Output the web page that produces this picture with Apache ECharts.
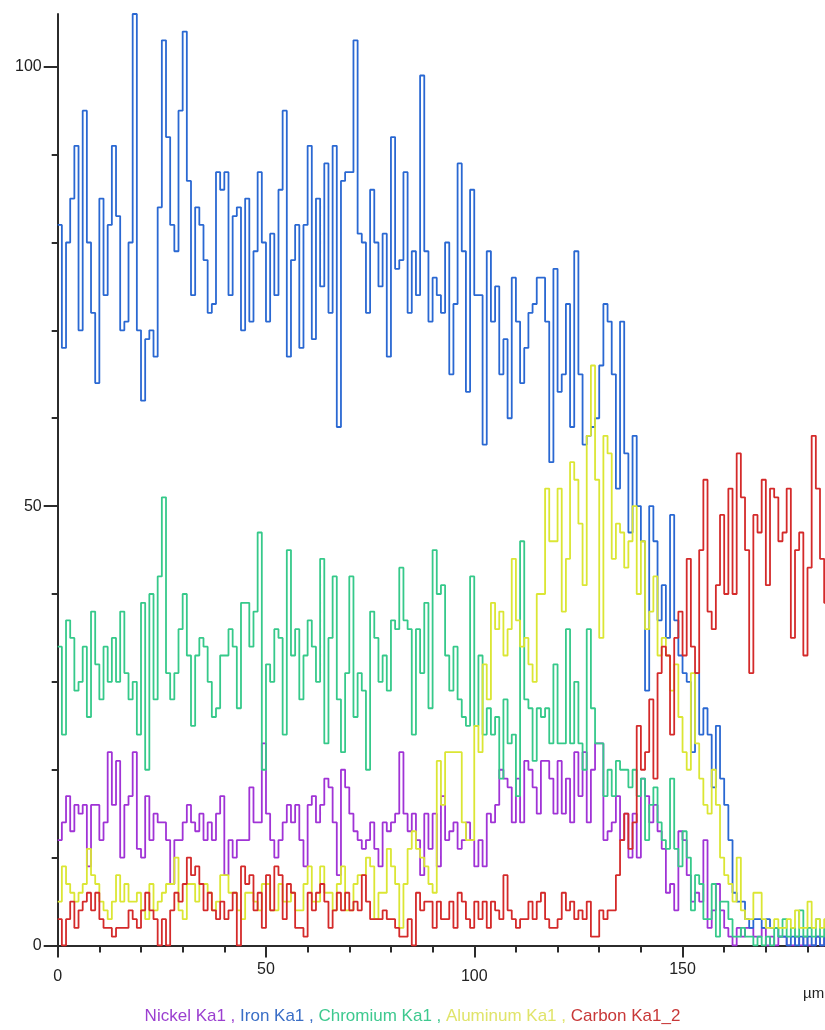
<!DOCTYPE html>
<html>
<head>
<meta charset="utf-8">
<script src="https://cdn.jsdelivr.net/npm/echarts@6/dist/echarts.min.js"></script>
<style>
  html, body { margin: 0; padding: 0; background: #ffffff; }
  #chart { width: 825px; height: 1030px; }
</style>
</head>
<body>
<div id="chart"></div>
<script>
// Line-scan profile: counts per element along the scan, one reading per micrometre.
const STEP_UM = 1;

const nickel = [
  12,14,17,13,16,15,16,9,16,16,
  12,14,22,16,21,10,16,17,22,11,
  10,17,12,15,14,14,12,7,12,12,
  14,16,14,13,15,12,14,12,15,17,
  8,12,10,12,12,12,18,14,14,23,
  15,12,10,12,14,16,14,16,12,9,
  16,17,14,16,19,18,14,8,20,18,
  15,13,12,11,12,14,11,9,14,13,
  14,15,22,15,13,15,12,8,15,11,
  15,9,17,12,13,14,11,12,14,12,
  9,12,9,15,14,16,20,19,18,14,
  19,14,21,20,18,15,21,21,19,15,
  21,15,19,14,22,17,22,14,20,23,
  23,12,13,14,17,12,15,10,15,10,
  19,17,14,16,13,11,6,7,4,13,
  12,8,5,6,5,12,2,4,7,4,
  2,1,0,2,1,2,2,1,1,2,
  0,1,0,1,1,0,0,1,0,1,
  0,0,1,0,1
];

const iron = [
  82,68,80,85,91,70,95,80,72,64,
  85,74,82,91,83,70,71,80,106,70,
  62,69,70,67,84,103,92,82,79,95,
  104,87,74,84,82,78,72,73,88,86,
  88,74,83,84,70,85,71,79,88,80,
  71,81,74,86,95,67,78,82,68,82,
  91,69,85,75,89,72,91,59,87,88,
  88,103,81,80,72,86,80,75,81,67,
  92,77,78,88,72,79,74,99,79,71,
  76,74,72,80,65,73,89,79,63,86,
  74,74,57,79,71,75,65,69,60,76,
  71,64,68,72,73,76,76,71,55,77,
  63,65,73,59,79,65,57,58,59,60,
  66,73,71,65,52,71,56,47,58,50,
  46,29,50,46,37,41,35,49,37,33,
  31,30,22,31,24,27,24,18,25,19,
  16,12,6,5,5,3,2,3,3,2,
  3,2,2,1,1,0,1,0,1,0,
  1,0,1,0,1
];

const chromium = [
  34,24,37,35,29,30,34,26,38,32,
  28,34,30,35,30,38,31,28,30,24,
  39,20,40,28,42,51,31,28,31,36,
  40,33,25,33,35,34,30,26,27,33,
  33,36,34,27,39,39,34,38,47,20,
  32,30,36,35,24,45,33,36,28,33,
  37,34,30,44,23,35,42,28,22,31,
  42,26,31,29,20,38,35,30,33,29,
  37,36,43,37,36,24,36,31,39,27,
  45,40,41,33,29,34,28,26,25,42,
  25,33,24,27,24,26,19,28,23,24,
  17,46,28,27,21,27,26,27,23,32,
  23,23,36,23,30,23,20,36,27,23,
  23,17,20,17,21,20,20,18,20,17,
  19,12,16,18,14,12,11,19,11,9,
  13,10,4,8,7,3,3,7,1,5,
  5,3,1,1,2,1,1,0,1,0,
  1,0,2,1,3,1,2,1,4,1,
  2,1,3,1,2
];

const aluminum = [
  5,9,7,6,5,6,7,11,8,7,
  5,4,3,5,8,5,7,5,5,6,
  4,3,7,4,5,6,7,7,10,4,
  3,7,7,5,7,7,6,4,5,8,
  8,6,6,4,3,6,6,5,4,7,
  7,4,4,7,5,5,6,4,4,7,
  9,5,5,9,6,6,4,7,9,4,
  4,7,8,8,10,9,3,6,6,11,
  9,7,2,7,11,13,11,10,9,7,
  6,21,16,22,22,22,22,14,12,12,
  25,22,32,28,39,36,38,33,36,44,
  37,34,35,32,30,40,40,52,46,46,
  52,38,44,55,53,48,41,58,66,53,
  35,58,56,44,48,47,43,46,50,40,
  46,36,38,42,33,35,33,29,32,26,
  22,20,31,23,19,16,15,20,16,10,
  8,7,5,10,4,3,3,6,6,3,
  2,2,3,2,2,3,2,4,2,2,
  5,2,3,2,3
];

const carbon = [
  3,0,3,5,2,4,5,6,4,6,
  3,2,2,1,2,2,2,4,3,2,
  4,6,4,3,0,3,0,4,6,5,
  7,10,8,9,7,4,6,4,3,5,
  3,4,6,0,9,7,8,4,6,2,
  8,4,9,8,3,7,6,2,2,1,
  6,4,6,7,5,2,4,6,4,6,
  4,5,4,8,5,3,3,3,4,3,
  3,2,1,1,3,0,6,4,5,5,
  2,5,3,3,5,2,6,5,3,2,
  5,3,5,2,5,4,3,8,4,3,
  2,3,3,5,3,5,6,3,2,2,
  3,6,4,5,3,4,3,5,1,1,
  4,3,4,4,8,12,15,11,14,25,
  20,22,28,19,31,34,33,24,35,38,
  33,44,34,31,45,53,38,36,41,49,
  40,52,40,56,51,45,31,49,47,53,
  41,52,51,46,47,52,35,45,47,33,
  43,58,52,44,39
];

const seriesNames  = ['Nickel Ka1', 'Iron Ka1', 'Chromium Ka1', 'Aluminum Ka1', 'Carbon Ka1_2'];
const seriesValues = [nickel, iron, chromium, aluminum, carbon];
const lineColors   = ['#a033d6', '#2a68d2', '#36c98a', '#dbe634', '#d42a2a'];
const legendColors = ['#9b3fd0', '#3a6ec6', '#3ec98f', '#e0e46a', '#c83838'];

const xMinorTicks = [0, 10, 20, 30, 40, 50, 60, 70, 80, 90, 100, 110, 120, 130, 140, 150, 160, 170, 180];
const xMajorTicks = [0, 50, 100, 150];
const yMinorTicks = [0, 10, 20, 30, 40, 50, 60, 70, 80, 90, 100];
const yMajorTicks = [0, 50, 100];
const X_MAX = 184.2;
const Y_MAX = 106;
const xUnit = 'µm';

const AXIS_COLOR = '#2b2b2b';
const FONT = '"Liberation Sans", Arial, sans-serif';

// Each reading holds its level across one step; a closing point keeps the last step.
function toSteps(vals) {
  const pts = vals.map((v, i) => [i * STEP_UM, v]);
  pts.push([vals.length * STEP_UM, vals[vals.length - 1]]);
  return pts;
}

const series = seriesNames.map((name, i) => ({
  name: name,
  type: 'line',
  step: 'end',
  xAxisIndex: 0,
  yAxisIndex: 0,
  data: toSteps(seriesValues[i]),
  showSymbol: false,
  symbol: 'none',
  silent: true,
  lineStyle: { color: lineColors[i], width: 1.8 },
  itemStyle: { color: lineColors[i] },
  z: 2 + i
}));

const legendKeys = ['n', 'i', 'c', 'a', 'r'];
const legendRich = {};
legendKeys.forEach((k, i) => {
  legendRich[k] = { fill: legendColors[i], color: legendColors[i], fontSize: 17, fontFamily: FONT };
});
const legendText = seriesNames
  .map((n, i) => '{' + legendKeys[i] + '|' + n + (i < seriesNames.length - 1 ? ' , ' : '') + '}')
  .join('');

const chart = echarts.init(document.getElementById('chart'), null, { renderer: 'canvas' });

chart.setOption({
  animation: false,
  backgroundColor: '#ffffff',
  grid: { left: 57.7, right: 0, top: 14, bottom: 84.5, containLabel: false },
  xAxis: [
    {
      type: 'value', min: 0, max: X_MAX, position: 'bottom',
      axisLine: { show: true, onZero: false, lineStyle: { color: AXIS_COLOR, width: 2 } },
      axisTick: { show: true, length: 7, customValues: xMinorTicks, lineStyle: { color: AXIS_COLOR, width: 2 } },
      axisLabel: { show: false },
      splitLine: { show: false }
    },
    {
      type: 'value', min: 0, max: X_MAX, position: 'bottom',
      axisLine: { show: false, onZero: false },
      axisTick: { show: true, length: 12, customValues: xMajorTicks, lineStyle: { color: AXIS_COLOR, width: 2 } },
      axisLabel: {
        show: true, customValues: xMajorTicks, margin: 16,
        color: '#222', fontSize: 16, fontFamily: FONT,
        formatter: v => (v % 100 === 0 ? '{lo|' + v + '}' : '{hi|' + v + '}'),
        rich: {
          lo: { color: '#222', fontSize: 16, fontFamily: FONT, padding: [7, 0, 0, 0] },
          hi: { color: '#222', fontSize: 16, fontFamily: FONT }
        }
      },
      splitLine: { show: false }
    }
  ],
  yAxis: [
    {
      type: 'value', min: 0, max: Y_MAX, position: 'left',
      axisLine: { show: true, onZero: false, lineStyle: { color: AXIS_COLOR, width: 2 } },
      axisTick: { show: true, length: 6, customValues: yMinorTicks, lineStyle: { color: AXIS_COLOR, width: 2 } },
      axisLabel: { show: false },
      splitLine: { show: false }
    },
    {
      type: 'value', min: 0, max: Y_MAX, position: 'left',
      axisLine: { show: false, onZero: false },
      axisTick: { show: true, length: 14, customValues: yMajorTicks, lineStyle: { color: AXIS_COLOR, width: 2 } },
      axisLabel: {
        show: true, customValues: yMajorTicks, margin: 16,
        color: '#222', fontSize: 16, fontFamily: FONT
      },
      splitLine: { show: false }
    }
  ],
  series: series,
  graphic: [
    {
      type: 'text', left: 803, top: 986, silent: true,
      style: { text: xUnit, fill: '#222', fontSize: 15, fontFamily: FONT }
    },
    {
      type: 'text', left: 'center', top: 1008, silent: true,
      style: { text: legendText, rich: legendRich, fontSize: 17, fontFamily: FONT }
    }
  ]
});
</script>
</body>
</html>
